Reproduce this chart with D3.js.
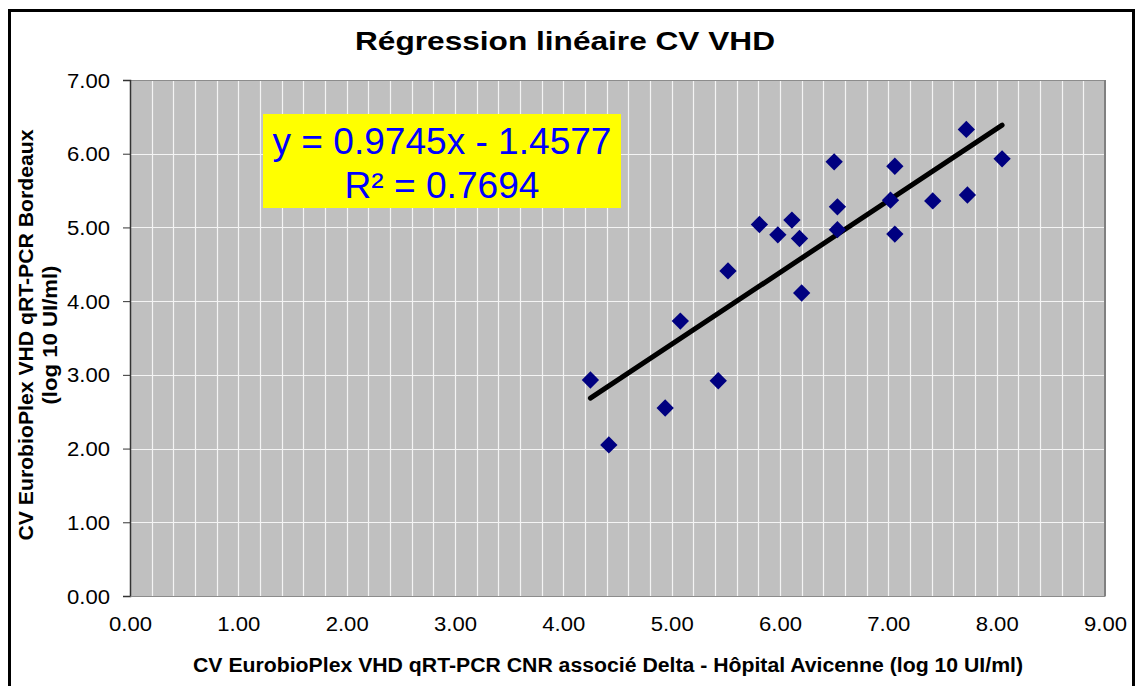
<!DOCTYPE html>
<html>
<head>
<meta charset="utf-8">
<script src="https://cdn.jsdelivr.net/npm/d3@7"></script>
<style>
  html, body { margin: 0; padding: 0; background: #ffffff; }
  svg { display: block; font-family: Arial, "Liberation Sans", sans-serif; }
</style>
</head>
<body>
<svg id="chart" width="1137" height="686"></svg>
<script>
// Viral load pairs (log10 UI/ml): CNR / Hôpital Avicenne (x) vs Bordeaux (y)
const xValues = [4.25, 4.42, 4.94, 5.08, 5.43, 5.52, 5.81, 5.98, 6.11, 6.18, 6.20,
                 6.50, 6.53, 6.53, 7.02, 7.06, 7.06, 7.41, 7.72, 7.73, 8.05];
const yValues = [2.93, 2.05, 2.55, 3.73, 2.92, 4.41, 5.04, 4.90, 5.10, 4.85, 4.11,
                 5.89, 5.28, 4.97, 5.37, 5.83, 4.91, 5.36, 6.33, 5.44, 5.93];

// Linear trend line and its fit statistic
const slope = 0.9745;
const intercept = -1.4577;
const rSquared = 0.7694;

const xTickValues = [0, 1, 2, 3, 4, 5, 6, 7, 8, 9];
const yTickValues = [0, 1, 2, 3, 4, 5, 6, 7];

const chartTitle = "Régression linéaire CV VHD";
const xTitle = "CV EurobioPlex VHD qRT-PCR CNR associé Delta - Hôpital Avicenne (log 10 UI/ml)";
const yTitleLines = ["CV EurobioPlex VHD qRT-PCR Bordeaux", "(log 10 UI/ml)"];

const svg = d3.select("#chart");
const fmt = d3.format(".2f");

// Plot area
const plot = { left: 130, right: 1105, top: 80, bottom: 596 };
const x = d3.scaleLinear().domain([0, 9]).range([plot.left, plot.right]);
const y = d3.scaleLinear().domain([0, 7]).range([plot.bottom, plot.top]);

// Outer chart frame
svg.append("rect")
  .attr("x", 9.5).attr("y", 10.5)
  .attr("width", 1124).attr("height", 700)
  .attr("fill", "#ffffff").attr("stroke", "#000000").attr("stroke-width", 3);

// Plot background
svg.append("rect")
  .attr("x", plot.left).attr("y", plot.top)
  .attr("width", plot.right - plot.left).attr("height", plot.bottom - plot.top)
  .attr("fill", "#c0c0c0");

// Vertical grid every 0.2, horizontal grid every 1
const grid = svg.append("g").attr("stroke", "#f4f4f4").attr("stroke-width", 1.2);
grid.selectAll("line.v")
  .data(d3.range(1, 45).map(i => i * 0.2))
  .join("line")
  .attr("class", "v")
  .attr("x1", d => Math.round(x(d)) + 0.5).attr("x2", d => Math.round(x(d)) + 0.5)
  .attr("y1", plot.top).attr("y2", plot.bottom);
grid.selectAll("line.h")
  .data(yTickValues.slice(1, -1))
  .join("line")
  .attr("class", "h")
  .attr("x1", plot.left).attr("x2", plot.right)
  .attr("y1", d => Math.round(y(d)) + 0.5).attr("y2", d => Math.round(y(d)) + 0.5);

// Plot border
svg.append("rect")
  .attr("x", plot.left + 0.5).attr("y", plot.top + 0.5)
  .attr("width", plot.right - plot.left - 1).attr("height", plot.bottom - plot.top)
  .attr("fill", "none").attr("stroke", "#8c8c8c").attr("stroke-width", 1);
svg.append("line")
  .attr("x1", plot.right).attr("x2", plot.right)
  .attr("y1", plot.top).attr("y2", plot.bottom)
  .attr("stroke", "#808080").attr("stroke-width", 2);

// Y axis with outside ticks
const yAxis = d3.axisLeft(y).tickValues(yTickValues).tickSize(7).tickFormat(fmt);
const gy = svg.append("g").attr("transform", `translate(${plot.left},0)`).call(yAxis);
gy.select(".domain").attr("stroke", "#333333").attr("stroke-width", 1.5);
gy.selectAll(".tick line").attr("stroke", "#333333");
gy.selectAll(".tick text")
  .attr("x", -20).attr("dy", "0.36em")
  .attr("font-size", 19.5).attr("fill", "#000000")
  .attr("font-family", "Arial, 'Liberation Sans', sans-serif")
  .attr("textLength", 43).attr("lengthAdjust", "spacingAndGlyphs");

// X axis (labels only)
const xAxis = d3.axisBottom(x).tickValues(xTickValues).tickSize(0).tickFormat(fmt);
const gx = svg.append("g").attr("transform", `translate(0,${plot.bottom})`).call(xAxis);
gx.select(".domain").attr("stroke", "#8c8c8c");
gx.selectAll(".tick text")
  .attr("y", 35).attr("dy", 0)
  .attr("font-size", 19.5).attr("fill", "#000000")
  .attr("font-family", "Arial, 'Liberation Sans', sans-serif")
  .attr("textLength", 43).attr("lengthAdjust", "spacingAndGlyphs");

// Trend line across the observed x range
const xr = d3.extent(xValues);
svg.append("line")
  .attr("x1", x(xr[0])).attr("y1", y(slope * xr[0] + intercept))
  .attr("x2", x(xr[1])).attr("y2", y(slope * xr[1] + intercept))
  .attr("stroke", "#000000").attr("stroke-width", 5).attr("stroke-linecap", "round");

// Data markers (diamonds)
const diamond = d3.symbol().type(d3.symbolSquare).size(150);
svg.append("g").selectAll("path")
  .data(xValues.map((v, i) => [v, yValues[i]]))
  .join("path")
  .attr("d", diamond)
  .attr("transform", d => `translate(${x(d[0])},${y(d[1])}) rotate(45)`)
  .attr("fill", "#000080");

// Equation box
svg.append("rect")
  .attr("x", 263).attr("y", 114).attr("width", 358).attr("height", 94)
  .attr("fill", "#ffff00");
const interceptText = intercept < 0 ? ` - ${Math.abs(intercept).toFixed(4)}` : ` + ${intercept.toFixed(4)}`;
svg.append("text")
  .attr("x", 442).attr("y", 154).attr("text-anchor", "middle")
  .attr("font-size", 36).attr("fill", "#0000ff")
  .attr("textLength", 339).attr("lengthAdjust", "spacingAndGlyphs")
  .text(`y = ${slope.toFixed(4)}x${interceptText}`);
svg.append("text")
  .attr("x", 442).attr("y", 198).attr("text-anchor", "middle")
  .attr("font-size", 36).attr("fill", "#0000ff")
  .attr("textLength", 195).attr("lengthAdjust", "spacingAndGlyphs")
  .text(`R² = ${rSquared.toFixed(4)}`);

// Title
svg.append("text")
  .attr("x", 565).attr("y", 50).attr("text-anchor", "middle")
  .attr("font-size", 26).attr("font-weight", "bold").attr("fill", "#000000")
  .attr("textLength", 420).attr("lengthAdjust", "spacingAndGlyphs")
  .text(chartTitle);

// X axis title
svg.append("text")
  .attr("x", 608).attr("y", 672).attr("text-anchor", "middle")
  .attr("font-size", 20).attr("font-weight", "bold").attr("fill", "#000000")
  .attr("textLength", 830).attr("lengthAdjust", "spacingAndGlyphs")
  .text(xTitle);

// Y axis title (two lines, rotated)
const yTitleG = svg.append("g").attr("transform", "translate(0,335) rotate(-90)");
yTitleG.append("text")
  .attr("x", 0).attr("y", 33).attr("text-anchor", "middle")
  .attr("font-size", 20).attr("font-weight", "bold").attr("fill", "#000000")
  .attr("textLength", 411).attr("lengthAdjust", "spacingAndGlyphs")
  .text(yTitleLines[0]);
yTitleG.append("text")
  .attr("x", 0).attr("y", 57).attr("text-anchor", "middle")
  .attr("font-size", 20).attr("font-weight", "bold").attr("fill", "#000000")
  .attr("textLength", 139).attr("lengthAdjust", "spacingAndGlyphs")
  .text(yTitleLines[1]);
</script>
</body>
</html>
